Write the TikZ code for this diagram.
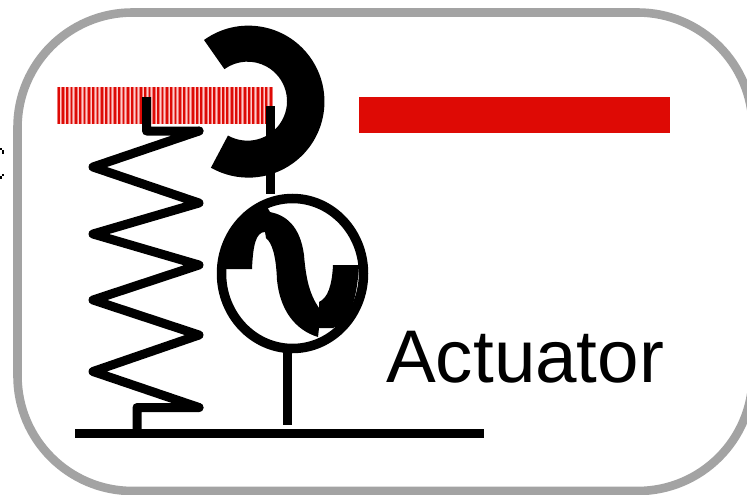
\documentclass[tikz,border=0pt]{standalone}
\usepackage{fontspec}
\setmainfont{Liberation Sans}
\definecolor{frame}{HTML}{A3A3A3}
\definecolor{barred}{HTML}{DE0A05}
\tikzset{
  ink/.style={draw=black,line width=9pt,line cap=butt},
  zig/.style={draw=black,line width=9pt,line join=round,line cap=round},
}
\begin{document}
\begin{tikzpicture}[x=1pt,y=-1pt]
\useasboundingbox (0,0) rectangle (747,495);
\fill[white] (0,0) rectangle (747,495);
% frame
\draw[frame,line width=8.6pt] (132.5,12.5) -- (637.6,12.5) arc[start angle=-90,end angle=0,radius=115] -- (752.6,376) arc[start angle=0,end angle=90,radius=115] -- (132.5,491) arc[start angle=90,end angle=180,radius=115] -- (17.5,127.5) arc[start angle=180,end angle=270,radius=115] -- cycle;
% red bars
\fill[red!20] (57,87) rectangle (271,124);
\foreach \i in {0,...,49} {
  \fill[barred!55] ({57+\i*4.33},87) rectangle ({60.4+\i*4.33},124);
  \fill[barred] ({57.6+\i*4.33},87) rectangle ({59.5+\i*4.33},124);
}
\fill[barred] (359,97) rectangle (670,133);
% C ring
\fill[black] (204,40) arc[start angle=-125.8,end angle=119.6,radius=76]
  -- (228,135.5) arc[start angle=119.6,end angle=-125.8,radius=39.5] -- cycle;
% stem
\draw[ink] (270.5,106) -- (270.5,194);
% spring
\draw[zig,line cap=butt] (146.5,97) -- (146.5,131) -- (199,131) -- (93,167) -- (199,203) -- (93,234) -- (199,265) -- (93,300) -- (199,335) -- (93,371.5) -- (199,407.5) -- (137,407.5) -- (137,433);
\fill[black] (199,131) circle[radius=4.5];
\fill[black] (199,407.5) circle[radius=4.5];
% base
\draw[ink] (75,433.5) -- (484,433.5);
\draw[ink] (287.5,352) -- (287.5,425);
% source
\draw[black,line width=9.5pt] (292.5,273.5) ellipse[x radius=71,y radius=75];
\fill[black] (226,269) -- (252,269) .. controls (253,245) and (256,232) .. (265,232)
  -- (266,238) .. controls (272,243) and (276,255) .. (277,280)
  .. controls (280,310) and (295,330) .. (318,337) -- (319,328) -- (333,328)
  .. controls (350,322) and (357,300) .. (359,265) -- (333,265)
  .. controls (332,285) and (328,298) .. (319,302) -- (319,308)
  .. controls (310,295) and (306,280) .. (304,255)
  .. controls (300,225) and (285,215) .. (270,212) -- (266,205)
  .. controls (240,205) and (224,235) .. (224,269) -- cycle;
% stray marks
\fill[black] (0,148) rectangle (1.5,150);
\fill[black] (1.5,150) rectangle (4,153.5);
\fill[black] (1.5,173.5) rectangle (4,176);
\fill[black] (0,176) rectangle (1.5,178.5);
\node[anchor=base west,inner sep=0pt,font=\fontsize{74.6}{80}\selectfont] (label) at (386,382) {Actuator};
\end{tikzpicture}
\end{document}
